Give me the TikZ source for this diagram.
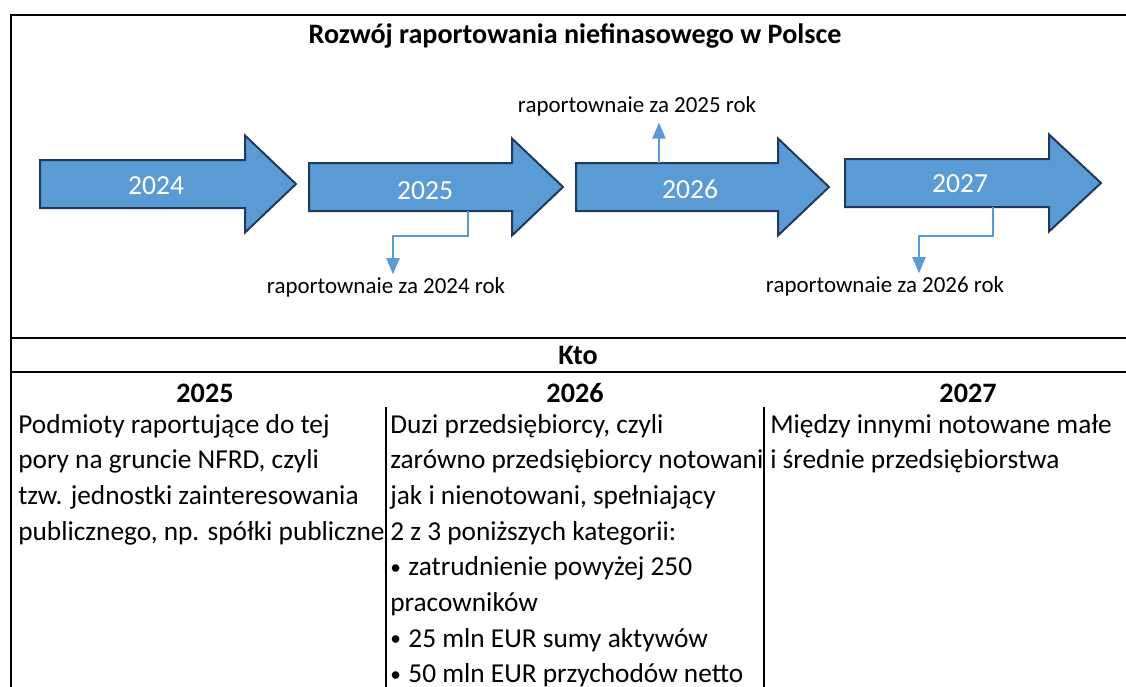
\documentclass[tikz,border=0pt]{standalone}
\usepackage{fontspec}
\setmainfont{Carlito}
\usetikzlibrary{arrows.meta}
\definecolor{arrowfill}{HTML}{5B9BD5}
\definecolor{arrowline}{HTML}{1F3A5A}
\definecolor{linkblue}{HTML}{5B9BD5}

% block arrow: #1 left x, #2 head base x, #3 tip x, #4 centre y
\newcommand\yeararrow[4]{%
  \draw[yeararrow] (#1,#4-24) -- (#2,#4-24) -- (#2,#4-48.5) -- (#3,#4)
    -- (#2,#4+48.5) -- (#2,#4+24) -- (#1,#4+24) -- cycle;}

% small list bullet
\newcommand\listdot{\raisebox{1.1pt}{\fontsize{16}{16}\selectfont •}\hspace{1pt}}

\tikzset{
  body/.style={font=\fontsize{20.5}{26.8}\selectfont, inner sep=0pt, anchor=base west},
  colhead/.style={font=\bfseries\fontsize{21.1}{24}\selectfont, inner sep=0pt, anchor=base},
  yeartxt/.style={font=\fontsize{20.7}{24}\selectfont, text=white, inner sep=0pt, anchor=base},
  lbl/.style={font=\fontsize{17.2}{20}\selectfont, inner sep=0pt, anchor=base},
  yeararrow/.style={fill=arrowfill, draw=arrowline, line width=1.5pt, line join=miter},
  link/.style={draw=linkblue, line width=1pt, -{Triangle[length=12pt,width=10pt]}},
  gridline/.style={line width=2pt},
  cellsep/.style={line width=1.4pt},
}

\begin{document}
\begin{tikzpicture}[x=0.75pt, y=-0.75pt]
\useasboundingbox[fill=white] (0,0) rectangle (1126,686);
\begin{scope}[overlay]
\clip (0,0) rectangle (1126,686);

% frame and table rules
\draw[gridline] (1130,15) -- (11,15) -- (11,690);
\draw[gridline] (11,338) -- (1130,338);
\draw[gridline] (11,372) -- (1130,372);
\draw[cellsep] (386,407) -- (386,690);
\draw[cellsep] (764,407) -- (764,690);

% title
\node[colhead] (title) at (575,43) {Rozwój raportowania niefinasowego w Polsce};

% timeline arrows
\yeararrow{40}{245}{296}{184}
\yeararrow{309}{512}{563}{187}
\yeararrow{576}{778}{829}{187}
\yeararrow{845}{1049}{1101}{183}

\node[yeartxt] (y24) at (156,194) {2024};
\node[yeartxt] (y25) at (425,199) {2025};
\node[yeartxt] (y26) at (690,198) {2026};
\node[yeartxt] (y27) at (960,192) {2027};

% reporting notes
\node[lbl] (lbl24) at (386,293) {raportownaie za 2024 rok};
\node[lbl] (lbl25) at (637,112) {raportownaie za 2025 rok};
\node[lbl] (lbl26) at (885,292) {raportownaie za 2026 rok};

\coordinate (a25b) at (468,211);
\coordinate (bend1) at (393,236);
\coordinate (a26t) at (659,163);
\coordinate (a27b) at (993,207);
\coordinate (bend2) at (919,236);

\draw[link, shorten >=2pt] (a25b) |- (bend1) -- (bend1 |- lbl24.north);
\draw[link, shorten >=5pt] (a26t) -- (a26t |- lbl25.south);
\draw[link, shorten >=2pt] (a27b) |- (bend2) -- (bend2 |- lbl26.north);

% table headings
\node[colhead] (kto) at (578,364) {Kto};
\node[colhead] (h25) at (205,402) {2025};
\node[colhead] (h26) at (575,402) {2026};
\node[colhead] (h27) at (968,402) {2027};

% column 2025
\foreach \t [count=\i from 0] in {Podmioty raportujące do tej,
    {pory na gruncie NFRD, czyli},
    tzw. jednostki zainteresowania,
    {publicznego, np. spółki publiczne}}
  \node[body] (c1-\i) at (18,433+35.7*\i) {\t};

% column 2026
\begin{scope}
\clip (387,400) rectangle (763,690);
\foreach \t [count=\i from 0] in {{Duzi przedsiębiorcy, czyli},
    zarówno przedsiębiorcy notowani,
    {jak i nienotowani, spełniający},
    2 z 3 poniższych kategorii:,
    \listdot{} zatrudnienie powyżej 250,
    pracowników,
    \listdot{} 25 mln EUR sumy aktywów,
    \listdot{} 50 mln EUR przychodów netto}
  \node[body] (c2-\i) at (390,433+35.7*\i) {\t};
\end{scope}

% column 2027
\foreach \t [count=\i from 0] in {Między innymi notowane małe,
    i średnie przedsiębiorstwa}
  \node[body] (c3-\i) at (770,433+35.7*\i) {\t};
\end{scope}
\end{tikzpicture}
\end{document}
